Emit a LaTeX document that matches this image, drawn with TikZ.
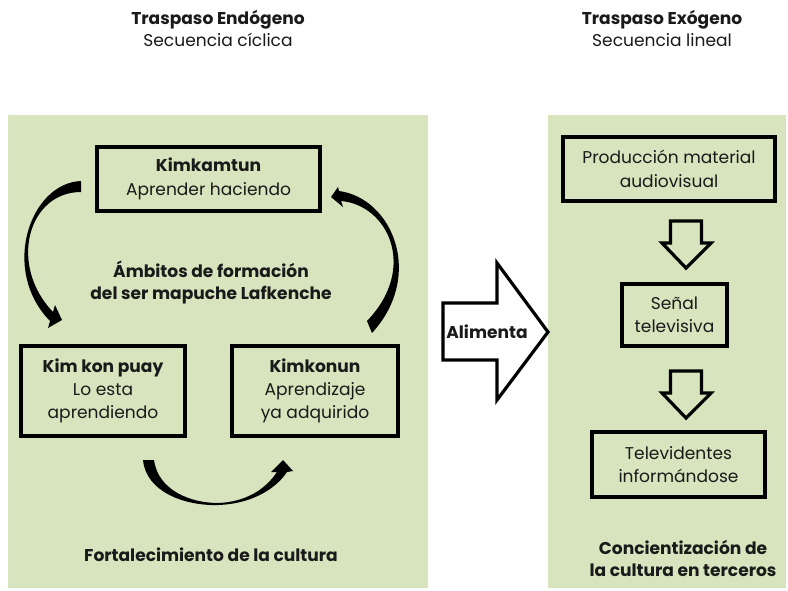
\documentclass[tikz,border=0pt]{standalone}
\usepackage{fontspec}
\setmainfont{Poppins}
\definecolor{panel}{HTML}{D7E4BD}
\definecolor{ink}{HTML}{1A1A1A}
\begin{document}
\begin{tikzpicture}[x=0.75pt,y=-0.75pt,
  txt/.style={align=center, text=ink, font=\fontsize{12.8}{16.5}\selectfont, inner sep=0pt},
  box/.style={draw=black, line width=2.4pt, align=center, text=ink, font=\fontsize{12.8}{17.5}\selectfont, inner sep=0pt},
  curvearrow/.style={fill=black},
  blockarrow/.style={draw=black, line width=2.4pt, line join=miter}]
\useasboundingbox (0,0) rectangle (788,590);
\fill[white] (0,0) rectangle (788,590);
\fill[panel] (8,115) rectangle (428,588);
\fill[panel] (548,115) rectangle (786,588);

% titles
\node[txt] (t1) at (218,28) {\textbf{Traspaso Endógeno}\\Secuencia cíclica};
\node[txt] (t2) at (662,28) {\textbf{Traspaso Exógeno}\\Secuencia lineal};

% left boxes
\node[box, minimum width=167.25pt, minimum height=48pt] (kk) at (208.5,179) {\textbf{Kimkamtun}\\Aprender haciendo};
\node[box, minimum width=123pt, minimum height=67.5pt] (kp) at (103,391) {\textbf{Kim kon puay}\\Lo esta\\aprendiendo};
\node[box, minimum width=124.5pt, minimum height=67.5pt] (kn) at (315,391) {\textbf{Kimkonun}\\Aprendizaje\\ya adquirido};
\node[txt] (amb) at (211,282) {\textbf{Ámbitos de formación}\\\textbf{del ser mapuche Lafkenche}};
\node[txt] (fort) at (211,555) {\textbf{Fortalecimiento de la cultura}};

% curved arrows
\fill[curvearrow] (81,181) .. controls (30,183) and (0,270) .. (50,321)
  -- (48,328) -- (62,320) -- (55,305) -- (53,312)
  .. controls (8,265) and (28,192) .. (81,192) -- cycle;
\fill[curvearrow] (339,191) .. controls (392,198) and (425,275) .. (372,333)
  -- (367,321) .. controls (418,268) and (388,205) .. (341,201)
  -- (343,207) -- (331,197) -- (338,187) -- cycle;
\fill[curvearrow] (143,460) .. controls (146,492) and (185,506) .. (218,505)
  .. controls (250,504) and (275,490) .. (287,472)
  -- (293,471) -- (283,460) -- (271,472) -- (277,472)
  .. controls (265,490) and (245,502) .. (218,503)
  .. controls (190,503) and (158,490) .. (154,460) -- cycle;

% big arrow
\draw[blockarrow, fill=white] (443,303) -- (497,303) -- (497,263) -- (548,332) -- (497,400) -- (497,360) -- (443,360) -- cycle;
\node[txt] (ali) at (487,332) {\textbf{Alimenta}};

% right boxes
\node[box, minimum width=159pt, minimum height=48pt] (pm) at (669,169) {Producción material\\audiovisual};
\node[box, minimum width=78.75pt, minimum height=46.5pt] (st) at (674.5,315) {Señal\\televisiva};
\node[box, minimum width=129.75pt, minimum height=48.75pt] (tv) at (678.5,464.5) {Televidentes\\informándose};
\node[txt] (conc) at (683,558) {\textbf{Concientización de}\\\textbf{la cultura en terceros}};

% down arrows
\foreach \dy in {0,150} {
  \draw[blockarrow] (670.5,221+\dy) -- (701.5,221+\dy) -- (701.5,243+\dy) -- (711,243+\dy) -- (686,268+\dy) -- (662,243+\dy) -- (670.5,243+\dy) -- cycle;
}
\end{tikzpicture}
\end{document}
